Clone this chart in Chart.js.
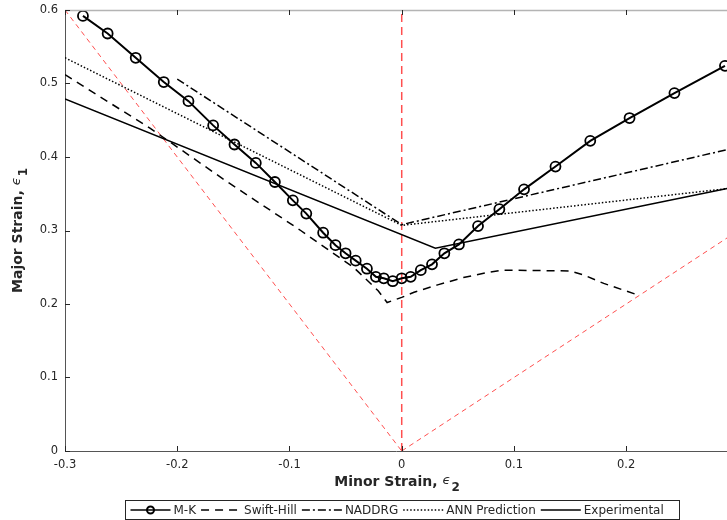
<!DOCTYPE html>
<html>
<head>
<meta charset="utf-8">
<title>Forming limit curves</title>
<script src="https://cdn.jsdelivr.net/npm/chart.js@4.4.1/dist/chart.umd.min.js"></script>
<style>
  html, body { margin: 0; padding: 0; background: #fff; overflow: hidden; width: 727px; height: 520px; }
  #fld { display: block; }
</style>
</head>
<body>
<!-- canvas un peu plus large que la fenetre : la figure d'origine est coupee a droite -->
<canvas id="fld" width="734" height="520"></canvas>
<script>
// valeurs (deformation mineure / majeure)
const mkX = [-0.284, -0.262, -0.237, -0.212, -0.190, -0.168, -0.149, -0.130, -0.113, -0.097, -0.085,
             -0.070, -0.059, -0.050, -0.041, -0.031, -0.023, -0.016, -0.008, 0.000, 0.008, 0.017,
             0.027, 0.038, 0.051, 0.068, 0.087, 0.109, 0.137, 0.168, 0.203, 0.243, 0.288];
const mkY = [0.592, 0.568, 0.535, 0.502, 0.476, 0.443, 0.417, 0.392, 0.366, 0.341, 0.323,
             0.297, 0.280, 0.269, 0.259, 0.248, 0.237, 0.235, 0.231, 0.235, 0.237, 0.246,
             0.254, 0.269, 0.281, 0.306, 0.329, 0.356, 0.387, 0.422, 0.453, 0.487, 0.524];

const swiftX = [-0.3, -0.224, -0.159, -0.090, -0.043, -0.021, -0.013, 0.000, 0.011, 0.032,
                0.055, 0.077, 0.090, 0.150, 0.163, 0.180, 0.211];
const swiftY = [0.512, 0.439, 0.370, 0.300, 0.250, 0.218, 0.202, 0.209, 0.216, 0.226,
                0.236, 0.243, 0.246, 0.245, 0.239, 0.228, 0.212];

const naddrgX = [-0.2, 0.0, 0.29];
const naddrgY = [0.506, 0.308, 0.410];

const annX = [-0.3, 0.0, 0.29];
const annY = [0.535, 0.307, 0.357];

const expX = [-0.3, 0.03, 0.29];
const expY = [0.479, 0.276, 0.357];

// droites de reference (rouge)
const refLeftX = [-0.3, 0.0];
const refLeftY = [0.6, 0.0];
const refRightX = [0.0, 0.29];
const refRightY = [0.0, 0.29];
const refMidX = [0.0, 0.0];
const refMidY = [0.0, 0.6];

const xTicks = [-0.3, -0.2, -0.1, 0, 0.1, 0.2];
const yTicks = [0, 0.1, 0.2, 0.3, 0.4, 0.5, 0.6];
const seriesNames = ['M-K', 'Swift-Hill', 'NADDRG', 'ANN Prediction', 'Experimental'];

const AXIS = '#262626';

function pts(xs, ys) {
    return xs.map((x, i) => ({ x: x, y: ys[i] }));
}

function fmt(v) {
    const r = Math.round(v * 10) / 10;
    return r === 0 ? '0' : String(r);
}

function blackLine(label, data, dash, extra) {
    return Object.assign({
        label: label,
        data: data,
        borderColor: '#000',
        borderWidth: 1.5,
        borderDash: dash,
        pointRadius: 0,
        tension: 0,
        fill: false
    }, extra || {});
}

function redLine(data, dash, width) {
    return {
        label: '',
        data: data,
        borderColor: 'rgba(255,60,60,0.9)',
        borderWidth: width || 1,
        borderDash: dash,
        pointRadius: 0,
        tension: 0,
        fill: false,
        inLegend: false
    };
}

// ticks vers l'interieur + cadre du haut + titres des axes
const axesPlugin = {
    id: 'axesPlugin',
    afterDraw(chart) {
        const ctx = chart.ctx;
        const a = chart.chartArea;
        const xs = chart.scales.x, ys = chart.scales.y;
        ctx.save();
        ctx.strokeStyle = '#b4b4b4';
        ctx.lineWidth = 1.5;
        ctx.beginPath();
        ctx.moveTo(a.left, a.top + 0.5);
        ctx.lineTo(a.right, a.top + 0.5);
        ctx.stroke();

        ctx.strokeStyle = AXIS;
        ctx.lineWidth = 1;
        ctx.beginPath();
        xTicks.forEach(v => {
            const px = Math.round(xs.getPixelForValue(v)) + 0.5;
            ctx.moveTo(px, a.bottom); ctx.lineTo(px, a.bottom - 5);
            ctx.moveTo(px, a.top); ctx.lineTo(px, a.top + 5);
        });
        yTicks.forEach(v => {
            const py = Math.round(ys.getPixelForValue(v)) + 0.5;
            ctx.moveTo(a.left, py); ctx.lineTo(a.left + 5, py);
        });
        ctx.stroke();

        // titres
        ctx.fillStyle = AXIS;
        ctx.textBaseline = 'alphabetic';
        function axisTitle(main, sub, cx, cy) {
            const f1 = 'bold 14px "DejaVu Sans"';
            const f2 = 'italic 13px "DejaVu Sans"';
            const f3 = 'bold 12px "DejaVu Sans"';
            ctx.font = f1; const w1 = ctx.measureText(main).width;
            ctx.font = f2; const w2 = ctx.measureText('\u03F5').width;
            ctx.font = f3; const w3 = ctx.measureText(sub).width;
            let x = cx - (w1 + w2 + 1 + w3) / 2;
            ctx.font = f1; ctx.fillText(main, x, cy + 5); x += w1;
            ctx.font = f2; ctx.fillText('\u03F5', x, cy + 3); x += w2 + 1;
            ctx.font = f3; ctx.fillText(sub, x, cy + 10);
        }
        axisTitle('Minor Strain, ', '2', 397, 481);
        ctx.save();
        ctx.translate(19, (a.top + a.bottom) / 2);
        ctx.rotate(-Math.PI / 2);
        axisTitle('Major Strain, ', '1', 0, -2);
        ctx.restore();
        ctx.restore();
    }
};

// legende horizontale en bas, dans un cadre
const legendPlugin = {
    id: 'boxLegend',
    afterDraw(chart) {
        const ctx = chart.ctx;
        const left = 125.5, top = 500.5, w = 554, h = 19;
        const cy = top + h / 2;
        ctx.save();
        ctx.fillStyle = '#fff';
        ctx.fillRect(left, top, w, h);
        ctx.strokeStyle = AXIS;
        ctx.lineWidth = 1;
        ctx.strokeRect(left, top, w, h);
        ctx.font = '12px "DejaVu Sans"';
        ctx.textBaseline = 'middle';
        let x = left + 5;
        chart.data.datasets.forEach(ds => {
            if (ds.inLegend === false) return;
            ctx.strokeStyle = '#000';
            ctx.lineWidth = 1.5;
            ctx.setLineDash(ds.borderDash || []);
            ctx.beginPath();
            ctx.moveTo(x, cy); ctx.lineTo(x + 40, cy);
            ctx.stroke();
            ctx.setLineDash([]);
            if (ds.pointRadius > 0) {
                ctx.lineWidth = 2;
                ctx.beginPath();
                ctx.arc(x + 20, cy, 3.5, 0, Math.PI * 2);
                ctx.stroke();
            }
            ctx.fillStyle = AXIS;
            ctx.fillText(ds.label, x + 43, cy + 0.5);
            x += 43 + ctx.measureText(ds.label).width + 5;
        });
        ctx.restore();
    }
};

const datasets = [
    blackLine(seriesNames[0], pts(mkX, mkY), [], {
        borderWidth: 2,
        pointRadius: 5,
        pointStyle: 'circle',
        pointBorderColor: '#000',
        pointBorderWidth: 1.8,
        pointBackgroundColor: 'rgba(0,0,0,0)'
    }),
    blackLine(seriesNames[1], pts(swiftX, swiftY), [8, 6]),
    blackLine(seriesNames[2], pts(naddrgX, naddrgY), [8, 3, 2, 3]),
    blackLine(seriesNames[3], pts(annX, annY), [1.5, 2]),
    blackLine(seriesNames[4], pts(expX, expY), []),
    redLine(pts(refLeftX, refLeftY), [5, 4]),
    redLine(pts(refRightX, refRightY), [5, 4]),
    redLine(pts(refMidX, refMidY), [8, 5], 1.5)
];

new Chart(document.getElementById('fld').getContext('2d'), {
    type: 'line',
    data: { datasets: datasets },
    plugins: [axesPlugin, legendPlugin],
    options: {
        responsive: false,
        animation: false,
        devicePixelRatio: 1,
        layout: { padding: { top: 10, right: 0, left: 0, bottom: 0 } },
        plugins: { legend: { display: false }, tooltip: { enabled: false } },
        scales: {
            x: {
                type: 'linear',
                min: -0.3,
                max: 0.29,
                grid: { display: false, drawTicks: false },
                border: { display: true, color: '#555', width: 1 },
                afterBuildTicks: s => { s.ticks = xTicks.map(v => ({ value: v })); },
                afterFit: s => { s.height = 69; },
                ticks: {
                    padding: 7,
                    color: AXIS,
                    font: { family: '"DejaVu Sans"', size: 11.5 },
                    maxRotation: 0,
                    callback: v => fmt(v)
                }
            },
            y: {
                type: 'linear',
                min: 0,
                max: 0.6,
                grid: { display: false, drawTicks: false },
                border: { display: true, color: '#555', width: 1 },
                afterBuildTicks: s => { s.ticks = yTicks.map(v => ({ value: v })); },
                afterFit: s => { s.width = 65; s.paddingTop = 0; s.paddingBottom = 0; },
                ticks: {
                    padding: 7,
                    color: AXIS,
                    font: { family: '"DejaVu Sans"', size: 11.5 },
                    callback: v => fmt(v)
                }
            }
        }
    }
});
</script>
</body>
</html>
